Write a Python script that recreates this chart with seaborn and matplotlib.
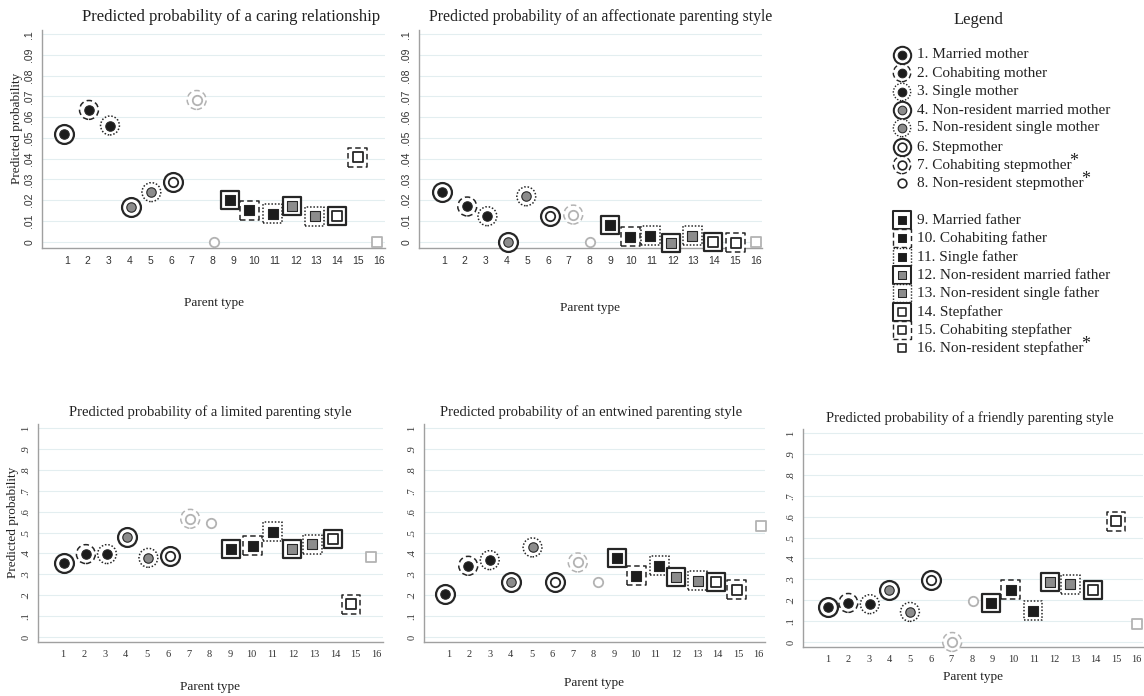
import matplotlib
matplotlib.use("Agg")
import matplotlib.pyplot as plt
import numpy as np
import pandas as pd
import seaborn as sns

sns.set_style("white")
plt.rcParams["font.family"] = ["Liberation Serif", "DejaVu Serif"]

# ---------------------------------------------------------------- data
parent_types = [
    "1. Married mother", "2. Cohabiting mother", "3. Single mother",
    "4. Non-resident married mother", "5. Non-resident single mother",
    "6. Stepmother", "7. Cohabiting stepmother", "8. Non-resident stepmother",
    "9. Married father", "10. Cohabiting father", "11. Single father",
    "12. Non-resident married father", "13. Non-resident single father",
    "14. Stepfather", "15. Cohabiting stepfather", "16. Non-resident stepfather",
]
starred_types = [7, 8, 16]
type_ids = list(range(1, 17))

# plotted position of each parent type (types are offset slightly from their tick)
caring_x = [0.86, 2.06, 3.07, 4.07, 5.06, 6.10, 7.24, 8.06,
            8.82, 9.78, 10.89, 11.83, 12.91, 13.99, 14.98, 15.90]
caring_p = [0.052, 0.0635, 0.056, 0.0167, 0.0239, 0.0287, 0.0683, 0.0,
            0.0199, 0.0151, 0.0136, 0.0170, 0.0122, 0.0125, 0.0407, 0.0]

affection_x = [0.90, 2.12, 3.09, 4.10, 4.96, 6.12, 7.22, 8.04,
               9.00, 9.97, 10.93, 11.94, 12.95, 13.96, 15.04, 16.00]
affection_p = [0.0238, 0.0170, 0.0123, 0.0, 0.0219, 0.0122, 0.0131, 0.0,
               0.0080, 0.0024, 0.0030, -0.0005, 0.0030, 0.0, -0.0005, 0.0]

limited_x = [1.05, 2.09, 3.10, 4.08, 5.08, 6.12, 7.08, 8.07,
             9.01, 10.06, 11.02, 11.95, 12.91, 13.89, 14.77, 15.73]
limited_p = [0.352, 0.397, 0.397, 0.477, 0.379, 0.389, 0.566, 0.544,
             0.422, 0.438, 0.504, 0.419, 0.443, 0.467, 0.157, 0.384]

entwined_x = [0.81, 1.94, 2.98, 4.00, 5.05, 6.13, 7.24, 8.21,
              9.13, 10.08, 11.18, 11.97, 13.05, 13.95, 14.94, 16.10]
entwined_p = [0.208, 0.341, 0.368, 0.261, 0.429, 0.261, 0.357, 0.261,
              0.379, 0.294, 0.341, 0.285, 0.270, 0.264, 0.227, 0.531]

friendly_x = [1.02, 2.00, 3.04, 3.99, 4.99, 5.99, 7.04, 8.03,
              8.90, 9.87, 10.96, 11.81, 12.78, 13.85, 14.99, 16.00]
friendly_p = [0.166, 0.187, 0.181, 0.251, 0.144, 0.299, 0.0, 0.195,
              0.189, 0.250, 0.150, 0.288, 0.277, 0.251, 0.578, 0.088]

small_ticks = np.round(np.arange(0, 0.1001, 0.01), 2)
small_labels = ["0"] + [f".{i:02d}" for i in range(1, 10)] + [".1"]
big_ticks = np.round(np.arange(0, 1.001, 0.1), 1)
big_labels = ["0"] + [f".{i}" for i in range(1, 10)] + ["1"]

# ---------------------------------------------------------------- marker styles
DARK, LIGHT = "#262626", "#b3b3b3"
FILLS = {"dark": "#1c1c1c", "grey": "#8c8c8c", "white": "#ffffff"}
shape = ["o"] * 8 + ["s"] * 8
fill = ["dark", "dark", "dark", "grey", "grey", "white", "white", "white"] * 2
ring = ["solid", "dashed", "dotted", "solid", "dotted", "solid", "dashed", None] * 2
faint = [False] * 6 + [True, True] + [False] * 7 + [True]
ring_ls = {"solid": "-", "dashed": (0, (3.6, 2.2)), "dotted": (0, (1.0, 1.2))}
ring_lw = {"solid": 1.6, "dashed": 1.1, "dotted": 1.1}


def draw_type(ax, xs, ys, t, scale=1.0, use_faint=True):
    k = t - 1
    edge = LIGHT if (faint[k] and use_faint) else DARK
    if ring[k] is not None:
        sns.scatterplot(x=xs, y=ys, marker=shape[k], s=185 * scale ** 2,
                        color="white", edgecolor=edge,
                        linewidth=ring_lw[ring[k]] * scale,
                        linestyle=ring_ls[ring[k]], ax=ax, zorder=3,
                        clip_on=False, legend=False)
    inner_lw = 1.3 if fill[k] == "white" else 0.8
    sns.scatterplot(x=xs, y=ys, marker=shape[k], s=46 * scale ** 2,
                    color=FILLS[fill[k]], edgecolor=edge,
                    linewidth=inner_lw * scale, ax=ax, zorder=4,
                    clip_on=False, legend=False)


W, H = 1144, 696
fig = plt.figure(figsize=(W / 100, H / 100), dpi=100)


def axes_px(left, top, right, bottom):
    return fig.add_axes([left / W, 1 - bottom / H, (right - left) / W, (bottom - top) / H])


panels = [
    dict(title="Predicted probability of a caring relationship", xs=caring_x, ps=caring_p,
         box=(42, 30, 385, 248), ylim=(-0.003, 0.102), ticks=small_ticks, labels=small_labels,
         tick_font="Liberation Sans", title_size=12, title_x=0.55, title_dy=13,
         xlabel_dy=49, ylabel=True),
    dict(title="Predicted probability of an affectionate parenting style", xs=affection_x,
         ps=affection_p, box=(419, 30, 762, 248), ylim=(-0.003, 0.102), ticks=small_ticks,
         labels=small_labels, tick_font="Liberation Sans", title_size=11.3, title_x=0.53,
         title_dy=13, xlabel_dy=54, ylabel=False),
    dict(title="Predicted probability of a limited parenting style", xs=limited_x, ps=limited_p,
         box=(38, 424, 383, 642), ylim=(-0.024, 1.02), ticks=big_ticks, labels=big_labels,
         tick_font="Liberation Serif", title_size=10.5, title_x=0.5, title_dy=12,
         xlabel_dy=39, ylabel=True),
    dict(title="Predicted probability of an entwined parenting style", xs=entwined_x,
         ps=entwined_p, box=(424, 424, 765, 642), ylim=(-0.024, 1.02), ticks=big_ticks,
         labels=big_labels, tick_font="Liberation Serif", title_size=10.5, title_x=0.49,
         title_dy=12, xlabel_dy=35, ylabel=False),
    dict(title="Predicted probability of a friendly parenting style", xs=friendly_x,
         ps=friendly_p, box=(803, 429, 1143, 647), ylim=(-0.024, 1.02), ticks=big_ticks,
         labels=big_labels, tick_font="Liberation Serif", title_size=10.5, title_x=0.49,
         title_dy=11, xlabel_dy=24, ylabel=False),
]

for spec in panels:
    ax = axes_px(*spec["box"])
    axh = spec["box"][3] - spec["box"][1]
    axw = spec["box"][2] - spec["box"][0]
    df = pd.DataFrame({"type": type_ids, "x": spec["xs"], "p": spec["ps"]})
    for t in type_ids:
        sub = df[df["type"] == t]
        draw_type(ax, sub["x"].to_numpy(), sub["p"].to_numpy(), t)

    ax.set_xlim(-0.2, 16.3)
    ax.set_ylim(*spec["ylim"])
    ax.set_xticks(type_ids)
    ax.set_xticklabels([str(t) for t in type_ids], fontsize=7.5, family=spec["tick_font"],
                       color="#333333")
    ax.set_yticks(spec["ticks"])
    ax.set_yticklabels(spec["labels"], rotation=90, va="center", fontsize=7.5,
                       family=spec["tick_font"], color="#333333")
    ax.tick_params(axis="both", length=3.5, width=0.8, color="#9a9a9a", pad=2)
    ax.yaxis.grid(True, color="#e3eef0", linewidth=0.8)
    ax.xaxis.grid(False)
    ax.set_axisbelow(True)
    for side in ("top", "right"):
        ax.spines[side].set_visible(False)
    for side in ("left", "bottom"):
        ax.spines[side].set_color("#a0a0a0")
        ax.spines[side].set_linewidth(1.0)

    ax.text(spec["title_x"], 1 + spec["title_dy"] / axh, spec["title"], transform=ax.transAxes,
            ha="center", va="center", fontsize=spec["title_size"], color="#222222")
    ax.set_xlabel("Parent type", fontsize=9.5, color="#222222")
    ax.xaxis.set_label_coords(0.5, -spec["xlabel_dy"] / axh)
    if spec["ylabel"]:
        ax.set_ylabel("Predicted probability", fontsize=9.5, color="#222222")
        ax.yaxis.set_label_coords(-19 / axw, 0.55)
    else:
        ax.set_ylabel("")

# ---------------------------------------------------------------- legend panel
lax = axes_px(880, 0, 1144, 370)
lax.set_xlim(0, 264)
lax.set_ylim(370, 0)
lax.axis("off")
lax.text(98, 20, "Legend", ha="center", va="center", fontsize=12, color="#222222")
row_y = [55, 73, 92, 110, 128, 147, 165, 183, 220, 238, 257, 275, 293, 312, 330, 348]
renderer = fig.canvas.get_renderer()
for t, label, yy in zip(type_ids, parent_types, row_y):
    draw_type(lax, np.array([22.0]), np.array([float(yy)]), t, scale=0.92, use_faint=False)
    txt = lax.text(37, yy, label, ha="left", va="center", fontsize=11, color="#222222")
    if t in starred_types:
        bb = txt.get_window_extent(renderer=renderer)
        x_end = lax.transData.inverted().transform((bb.x1, bb.y0))[0]
        lax.text(x_end - 2.0, yy - 4, "*", ha="left", va="center", fontsize=13,
                 color="#222222")

fig.savefig("out.png", dpi=100)
